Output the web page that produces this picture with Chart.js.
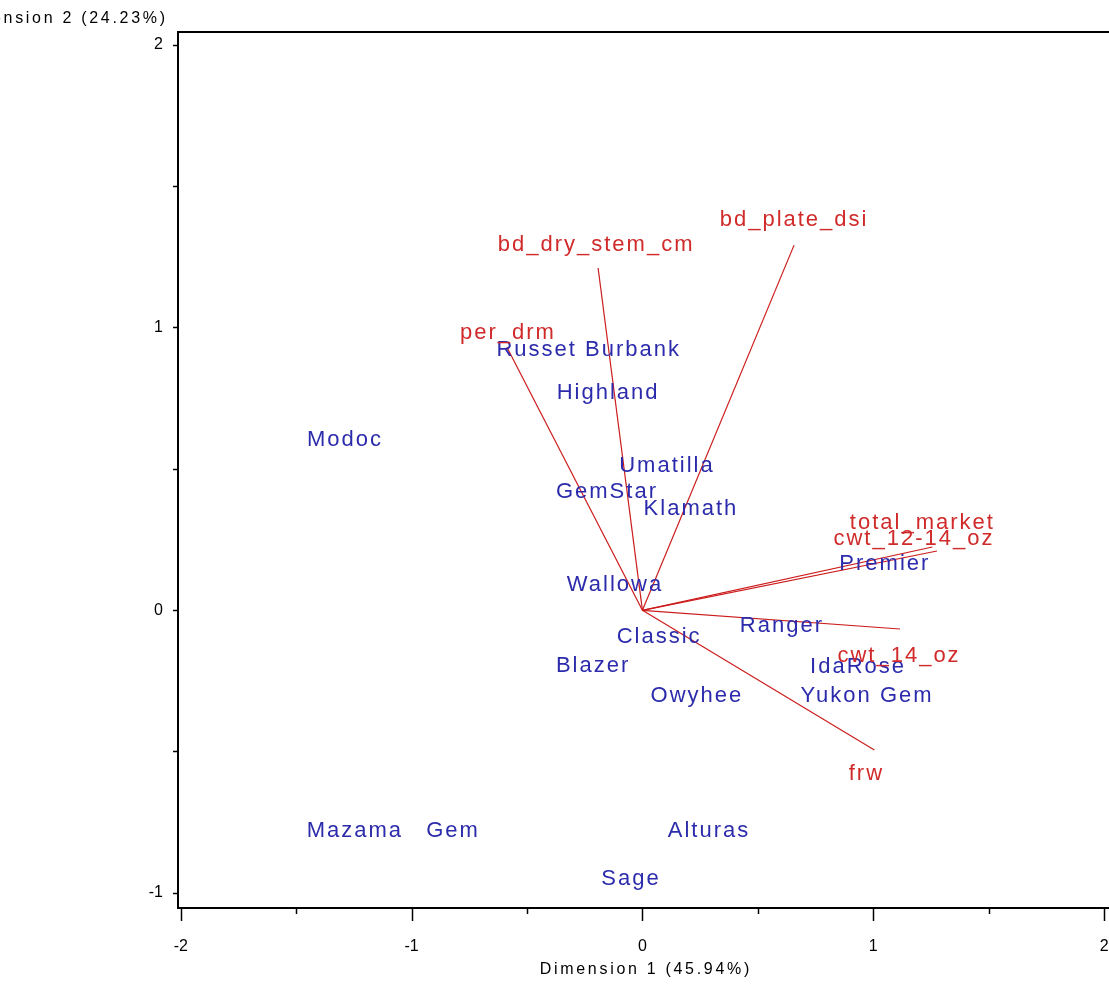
<!DOCTYPE html>
<html><head><meta charset="utf-8">
<script src="https://cdn.jsdelivr.net/npm/chart.js@4.4.1/dist/chart.umd.min.js"></script>
<style>
html,body{margin:0;padding:0;background:#fff;overflow:hidden;}
#wrap{position:absolute;left:0;top:0;width:1112px;height:1005px;}
canvas{display:block;}
</style></head><body>
<div id="wrap"><canvas id="c" width="1112" height="1005" style="width:1112px;height:1005px"></canvas></div>
<script>
// ---- data ----
const cultivarNames = ['Russet Burbank','Highland','Modoc','Umatilla','GemStar','Klamath','Premier','Wallowa','Ranger','Classic','Blazer','IdaRose','Owyhee','Yukon Gem','Mazama','Gem','Alturas','Sage'];
const cultivarDim1 = [-0.237,-0.153,-1.293,0.102,-0.158,0.206,1.046,-0.123,0.600,0.068,-0.218,0.930,0.232,0.969,-1.250,-0.825,0.284,-0.054];
const cultivarDim2 = [0.928,0.776,0.610,0.518,0.425,0.365,0.171,0.097,-0.048,-0.087,-0.189,-0.193,-0.296,-0.296,-0.774,-0.774,-0.774,-0.943];
const variableNames = ['per_drm','bd_dry_stem_cm','bd_plate_dsi','total_market','cwt_12-14_oz','cwt_14_oz','frw'];
const variableDim1 = [-0.587,-0.192,0.657,1.256,1.276,1.116,1.005];
const variableDim2 = [0.931,1.211,1.292,0.224,0.210,-0.066,-0.494];
const xTickValues = [-2,-1.5,-1,-0.5,0,0.5,1,1.5,2];
const yTickValues = [-1,-0.5,0,0.5,1,1.5,2];
const xAxisTitle = 'Dimension 1 (45.94%)';
const yAxisTitle = 'Dimension 2 (24.23%)';

// ---- styling / layout (not data) ----
const BLUE = '#2b2bac';
const RED = '#d02a2a';
const LINE_RED = '#cc1c1c';
const labelFont = '22px "Liberation Sans", Arial, sans-serif';
const axisFont = '16px "Liberation Sans", Arial, sans-serif';
// pixel nudges of the variable labels relative to the arrow tips
const varLabelOffsets = {
  'per_drm':[0,-16], 'bd_dry_stem_cm':[-3,-25], 'bd_plate_dsi':[-1,-27],
  'total_market':[-11,-26], 'cwt_12-14_oz':[-24,-14], 'cwt_14_oz':[-2,25], 'frw':[-9,22]
};

const datasets = [{
  label:'cultivars',
  data: cultivarNames.map((n,i)=>({x:cultivarDim1[i], y:cultivarDim2[i]})),
  pointRadius:0, showLine:false
}];
variableNames.forEach((n,i)=>{
  datasets.push({
    label:n,
    data:[{x:0,y:0},{x:variableDim1[i],y:variableDim2[i]}],
    showLine:true, borderColor:LINE_RED, borderWidth:1.2, pointRadius:0, fill:false
  });
});

function drawSpaced(ctx, text, x, y, align, spacing){
  ctx.save();
  if ('letterSpacing' in ctx) ctx.letterSpacing = spacing + 'px';
  ctx.textAlign = align;
  ctx.fillText(text, x + (align==='center' ? spacing/2 : align==='right' ? spacing : 0), y);
  ctx.restore();
}

const biplotPlugin = {
  id:'biplot',
  afterDatasetsDraw(chart){
    const ctx = chart.ctx, ca = chart.chartArea;
    const xs = chart.scales.x;
    ctx.save();
    ctx.strokeStyle = '#000'; ctx.lineWidth = 2;
    ctx.strokeRect(ca.left, ca.top, ca.right-ca.left, ca.bottom-ca.top);
    ctx.lineWidth = 1.5;
    xs.ticks.forEach(t=>{
      const px = Math.round(xs.getPixelForValue(t.value))+0.5;
      const len = Number.isInteger(t.value) ? 13 : 6;
      ctx.beginPath(); ctx.moveTo(px, ca.bottom); ctx.lineTo(px, ca.bottom+len); ctx.stroke();
    });
    ctx.font = labelFont; ctx.textBaseline = 'alphabetic';
    ctx.fillStyle = BLUE;
    const m0 = chart.getDatasetMeta(0);
    m0.data.forEach((el,i)=>{
      drawSpaced(ctx, cultivarNames[i], el.x, el.y+8, 'center', 2);
    });
    ctx.fillStyle = RED;
    variableNames.forEach((n,i)=>{
      const el = chart.getDatasetMeta(i+1).data[1];
      const off = varLabelOffsets[n] || [0,0];
      drawSpaced(ctx, n, el.x+off[0], el.y+off[1]+8, 'center', 2);
    });
    ctx.fillStyle = '#000'; ctx.font = axisFont;
    drawSpaced(ctx, xAxisTitle, (ca.left+ca.right)/2, 974, 'center', 2.7);
    drawSpaced(ctx, yAxisTitle, 165, 23, 'right', 2.7);
    ctx.restore();
  }
};

new Chart(document.getElementById('c'), {
  type:'scatter',
  data:{datasets},
  options:{
    responsive:false, maintainAspectRatio:false, animation:false,
    layout:{padding:{top:32,left:0,right:1,bottom:0}},
    plugins:{legend:{display:false}, tooltip:{enabled:false}},
    scales:{
      x:{
        type:'linear', min:-2.012, max:2.03,
        afterBuildTicks(s){ s.ticks = xTickValues.map(v=>({value:v})); },
        afterFit(s){ s.height = 97; s.paddingRight = 0; s.paddingLeft = 0; },
        grid:{display:true, drawOnChartArea:false, drawTicks:false},
        border:{display:false},
        ticks:{color:'#000', font:{family:'"Liberation Sans", Arial, sans-serif', size:16}, padding:29,
          maxRotation:0, autoSkip:false,
          callback:(v)=> Number.isInteger(v) ? String(v) : ''}
      },
      y:{
        type:'linear', min:-1.053, max:2.046,
        afterBuildTicks(s){ s.ticks = yTickValues.map(v=>({value:v})); },
        afterFit(s){ s.width = 178; },
        grid:{display:true, drawOnChartArea:false, drawTicks:true, tickLength:5, tickColor:'#000', tickWidth:1.5},
        border:{display:false},
        ticks:{color:'#000', font:{family:'"Liberation Sans", Arial, sans-serif', size:16}, padding:10,
          autoSkip:false,
          callback:(v)=> Number.isInteger(v) ? String(v) : ''}
      }
    }
  },
  plugins:[biplotPlugin]
});
</script>
</body></html>
